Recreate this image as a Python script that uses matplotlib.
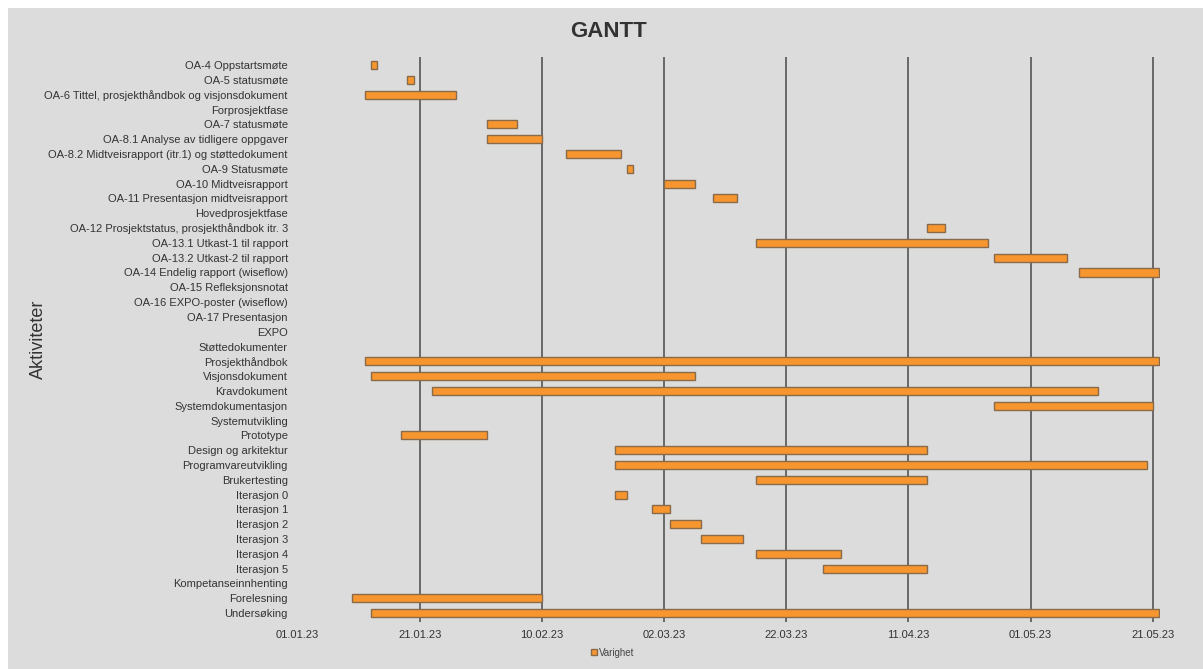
import datetime as dt
import matplotlib
matplotlib.use("Agg")
import matplotlib.pyplot as plt
import matplotlib.dates as mdates
from matplotlib.patches import Rectangle

plt.rcParams['font.family'] = ['Liberation Sans', 'DejaVu Sans']

# activities, top to bottom
activities = [
    "OA-4 Oppstartsmøte", "OA-5 statusmøte",
    "OA-6 Tittel, prosjekthåndbok og visjonsdokument", "Forprosjektfase",
    "OA-7 statusmøte", "OA-8.1 Analyse av tidligere oppgaver",
    "OA-8.2 Midtveisrapport (itr.1) og støttedokument", "OA-9 Statusmøte",
    "OA-10 Midtveisrapport", "OA-11 Presentasjon midtveisrapport",
    "Hovedprosjektfase", "OA-12 Prosjektstatus, prosjekthåndbok itr. 3",
    "OA-13.1 Utkast-1 til rapport", "OA-13.2 Utkast-2 til rapport",
    "OA-14 Endelig rapport (wiseflow)", "OA-15 Refleksjonsnotat",
    "OA-16 EXPO-poster (wiseflow)", "OA-17 Presentasjon", "EXPO",
    "Støttedokumenter", "Prosjekthåndbok", "Visjonsdokument", "Kravdokument",
    "Systemdokumentasjon", "Systemutvikling", "Prototype",
    "Design og arkitektur", "Programvareutvikling", "Brukertesting",
    "Iterasjon 0", "Iterasjon 1", "Iterasjon 2", "Iterasjon 3",
    "Iterasjon 4", "Iterasjon 5", "Kompetanseinnhenting", "Forelesning",
    "Undersøking",
]
# start dates (None = no bar) and duration in days
starts = [
    "2023-01-13", "2023-01-19", "2023-01-12", None,
    "2023-02-01", "2023-02-01", "2023-02-14", "2023-02-24",
    "2023-03-02", "2023-03-10", None, "2023-04-14",
    "2023-03-17", "2023-04-25", "2023-05-09", None,
    None, None, None, None, "2023-01-12", "2023-01-13", "2023-01-23",
    "2023-04-25", None, "2023-01-18", "2023-02-22", "2023-02-22",
    "2023-03-17", "2023-02-22", "2023-02-28", "2023-03-03", "2023-03-08",
    "2023-03-17", "2023-03-28", None, "2023-01-10", "2023-01-13",
]
durations = [
    1, 1, 15, 0, 5, 9, 9, 1, 5, 4, 0, 3, 38, 12, 13, 0, 0, 0, 0, 0,
    130, 53, 109, 26, 0, 14, 51, 87, 28, 2, 3, 5, 7, 14, 17, 0, 31, 129,
]

tick_dates = ["2023-01-01", "2023-01-21", "2023-02-10", "2023-03-02",
              "2023-03-22", "2023-04-11", "2023-05-01", "2023-05-21"]

bg = "#dcdcdc"
bar_color = "#f7962f"
edge_color = "#8a6a48"

fig = plt.figure(figsize=(12.03, 6.69), dpi=100)
fig.patch.set_facecolor("white")
fig.patches.append(Rectangle((8 / 1203, 0), 1, 1 - 8 / 669, transform=fig.transFigure,
                             facecolor=bg, edgecolor="none", zorder=-10))

ax = fig.add_axes([0.2473, 0.0703, 0.717, 0.8445])
ax.set_facecolor(bg)

for i, (s, d) in enumerate(zip(starts, durations)):
    if s is None:
        continue
    x0 = mdates.date2num(dt.datetime.fromisoformat(s))
    ax.barh(i, d, left=x0, height=0.55, color=bar_color, edgecolor=edge_color,
            linewidth=1.0, zorder=3, label="Varighet" if i == 0 else None)

ticks = [mdates.date2num(dt.datetime.fromisoformat(t)) for t in tick_dates]
ax.set_xticks(ticks)
ax.set_xticklabels([dt.datetime.fromisoformat(t).strftime("%d.%m.%y") for t in tick_dates])
ax.set_xlim(ticks[0], ticks[0] + 141.2)
for t in ticks[1:]:
    ax.axvline(t, color="#555555", linewidth=1.2, zorder=1)

ax.set_yticks(range(len(activities)))
ax.set_yticklabels(activities)
ax.set_ylim(37.6, -0.55)

ax.tick_params(axis="both", length=0, labelsize=8, colors="#333333")
ax.tick_params(axis="y", pad=7)
ax.tick_params(axis="x", pad=6)
for sp in ax.spines.values():
    sp.set_visible(False)

ax.set_ylabel("Aktiviteter", fontsize=13, color="#333333")
ax.yaxis.set_label_coords(-0.291, 0.5)

fig.text(0.506, 0.953, "GANTT", ha="center", va="center", fontsize=16,
         fontweight="bold", color="#333333")

ax.legend(loc="upper center", bbox_to_anchor=(0.365, -0.03), frameon=False,
          fontsize=7, handlelength=0.6, handleheight=0.6, handletextpad=0.2,
          labelcolor="#444444")

fig.savefig("out.png", dpi=100, facecolor=fig.get_facecolor())
